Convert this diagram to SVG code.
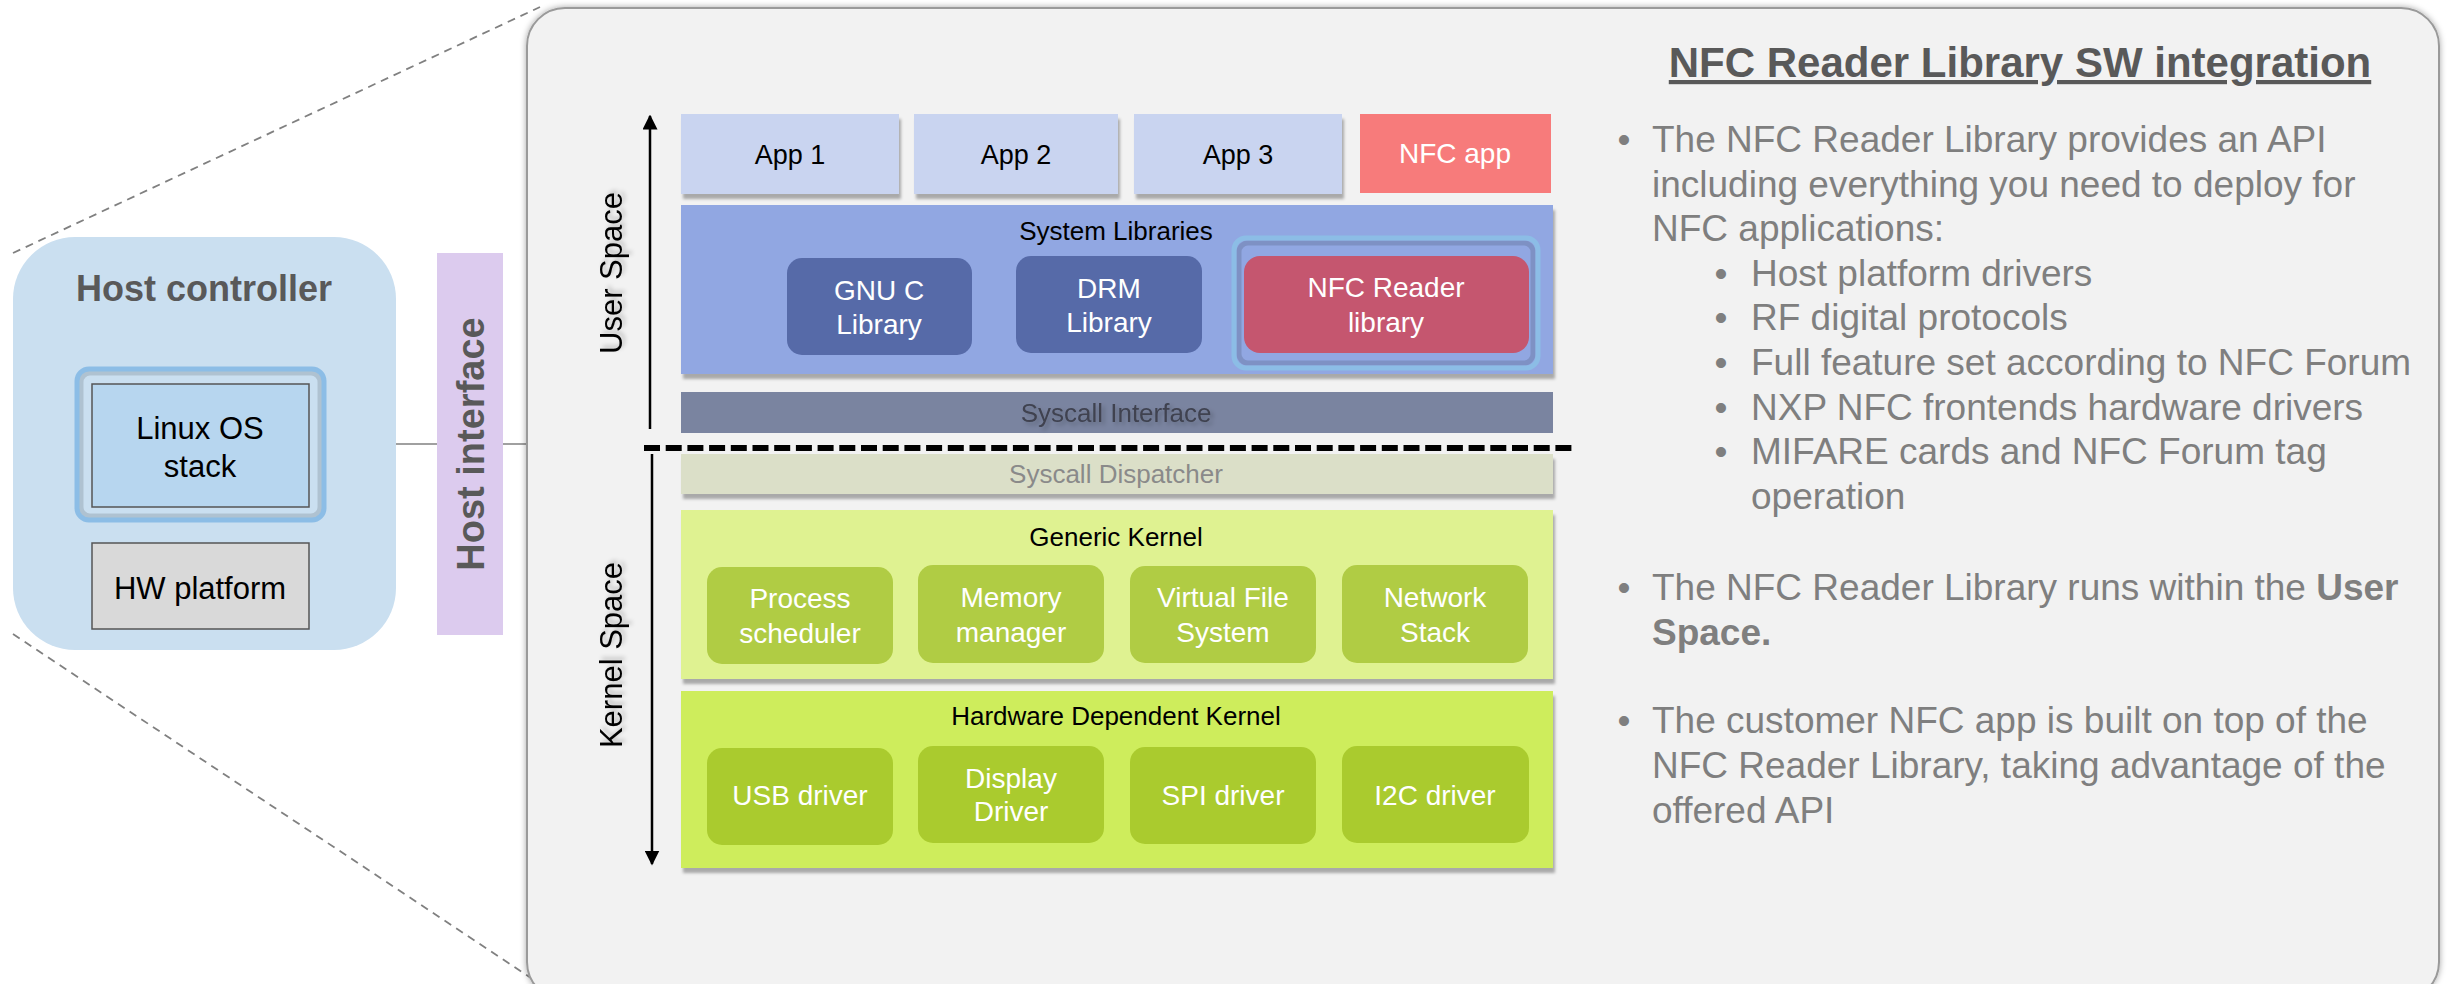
<svg xmlns="http://www.w3.org/2000/svg" width="2448" height="984" viewBox="0 0 2448 984">
  <defs>
    <filter id="boxShadow" x="-5%" y="-10%" width="115%" height="130%">
      <feDropShadow dx="2" dy="5" stdDeviation="1.5" flood-color="#000" flood-opacity="0.3"/>
    </filter>
    <filter id="panelShadow" x="-2%" y="-2%" width="104%" height="104%">
      <feDropShadow dx="0" dy="0" stdDeviation="3" flood-color="#000" flood-opacity="0.35"/>
    </filter>
    <filter id="textShadow" x="-10%" y="-10%" width="130%" height="130%">
      <feDropShadow dx="3" dy="3" stdDeviation="2" flood-color="#000" flood-opacity="0.22"/>
    </filter>
    <marker id="arrowHead" viewBox="0 0 10 10" refX="9" refY="5" markerWidth="6" markerHeight="6" markerUnits="strokeWidth" orient="auto">
      <path d="M0,0 L10,5 L0,10 z" fill="#000"/>
    </marker>
    <style>
      text { font-family: "Liberation Sans", Arial, sans-serif; }
      .lbl { font-size: 28px; fill: #ffffff; text-anchor: middle; }
      .dark { font-size: 27px; fill: #000000; text-anchor: middle; }
      .host { font-size: 31px; fill: #000000; text-anchor: middle; }
      .title { font-size: 26px; fill: #000000; text-anchor: middle; }
      .body { font-size: 37px; fill: #7f7f7f; }
      .bul { font-size: 37px; fill: #7f7f7f; text-anchor: middle; }
      .app { fill: #c9d4f0; }
      .gk { fill: #b0cc44; }
      .hk { fill: #aacb2e; }
      .lib { fill: #566aa8; }
      .glow { fill: none; stroke: #8cbde6; stroke-width: 5; }
      .inner { fill: none; stroke: #000; stroke-opacity: 0.13; stroke-width: 5; }
      .conn { stroke: #808080; stroke-width: 1.5; fill: none; }
      .zoomline { stroke: #808080; stroke-width: 1.8; stroke-dasharray: 8 6; fill: none; }
    </style>
  </defs>

  <rect width="2448" height="984" fill="#ffffff"/>

  <!-- zoom-out guide lines and host link connectors -->
  <g id="connectors">
    <line class="zoomline" x1="13" y1="253" x2="540" y2="7"/>
    <line class="zoomline" x1="13" y1="634" x2="540" y2="984"/>
    <line class="conn" x1="396" y1="444" x2="437" y2="444"/>
    <line class="conn" x1="503" y1="444" x2="527" y2="444"/>
  </g>

  <!-- host controller -->
  <g id="host-controller">
    <rect x="13" y="237" width="383" height="413" rx="62" ry="62" fill="#cadff0"/>
    <text x="204" y="301" text-anchor="middle" font-size="36" font-weight="bold" fill="#595959">Host controller</text>
  </g>
  <g id="linux-os-stack">
    <rect x="81" y="373" width="239" height="143" rx="9" class="inner"/>
    <rect x="77" y="369" width="247" height="151" rx="12" class="glow" stroke-width="4"/>
    <rect x="92" y="384" width="217" height="123" fill="#b7d6ef" stroke="#555555" stroke-width="1.5"/>
    <text x="200" y="439" class="host">Linux OS</text>
    <text x="200" y="477" class="host">stack</text>
  </g>
  <g id="hw-platform">
    <rect x="92" y="543" width="217" height="86" fill="#d9d9d9" stroke="#555555" stroke-width="1.5"/>
    <text x="200" y="599" class="host">HW platform</text>
  </g>

  <!-- host interface -->
  <g id="host-interface">
    <rect x="437" y="253" width="66" height="382" fill="#dccbee"/>
    <text transform="translate(484,444) rotate(-90)" text-anchor="middle" font-size="38" font-weight="bold" fill="#595959">Host interface</text>
  </g>

  <!-- main panel -->
  <g id="panel">
    <rect x="527" y="8" width="1912" height="992" rx="38" ry="38" fill="#f2f2f2" stroke="#9a9a9a" stroke-width="2" filter="url(#panelShadow)"/>
  </g>

  <!-- space axes -->
  <g id="space-axes">
    <line x1="650" y1="429" x2="650" y2="116" stroke="#000" stroke-width="2.5" marker-end="url(#arrowHead)"/>
    <line x1="652" y1="454" x2="652" y2="864" stroke="#000" stroke-width="2.5" marker-end="url(#arrowHead)"/>
    <text transform="translate(622,273) rotate(-90)" text-anchor="middle" font-size="31" fill="#000" filter="url(#textShadow)">User Space</text>
    <text transform="translate(622,655) rotate(-90)" text-anchor="middle" font-size="31" fill="#000" filter="url(#textShadow)">Kernel Space</text>
  </g>

  <!-- user space -->
  <g id="app-1">
    <rect x="681" y="114" width="218" height="80" class="app" filter="url(#boxShadow)"/>
    <text x="790" y="164" class="dark">App 1</text>
  </g>
  <g id="app-2">
    <rect x="914" y="114" width="204" height="80" class="app" filter="url(#boxShadow)"/>
    <text x="1016" y="164" class="dark">App 2</text>
  </g>
  <g id="app-3">
    <rect x="1134" y="114" width="208" height="80" class="app" filter="url(#boxShadow)"/>
    <text x="1238" y="164" class="dark">App 3</text>
  </g>
  <g id="nfc-app">
    <rect x="1360" y="114" width="191" height="79" fill="#f77b7b"/>
    <text x="1455" y="163" class="lbl">NFC app</text>
  </g>

  <g id="system-libraries">
    <rect x="681" y="205" width="872" height="169" fill="#91a7e2" filter="url(#boxShadow)"/>
    <text x="1116" y="240" class="title">System Libraries</text>
  </g>
  <g id="gnu-c-library">
    <rect x="787" y="258" width="185" height="97" rx="15" class="lib"/>
    <text x="879" y="300" class="lbl">GNU C</text>
    <text x="879" y="334" class="lbl">Library</text>
  </g>
  <g id="drm-library">
    <rect x="1016" y="256" width="186" height="97" rx="15" class="lib"/>
    <text x="1109" y="298" class="lbl">DRM</text>
    <text x="1109" y="332" class="lbl">Library</text>
  </g>
  <g id="nfc-reader-library">
    <rect x="1239" y="243" width="294" height="120" rx="9" class="inner"/>
    <rect x="1234" y="238" width="304" height="130" rx="12" class="glow"/>
    <rect x="1244" y="256" width="285" height="97" rx="16" fill="#c5566f"/>
    <text x="1386" y="297" class="lbl">NFC Reader</text>
    <text x="1386" y="332" class="lbl">library</text>
  </g>

  <g id="syscall-interface">
    <rect x="681" y="392" width="872" height="41" fill="#7a84a0"/>
    <text x="1116" y="422" class="title" style="fill:#3f4250" filter="url(#textShadow)">Syscall Interface</text>
  </g>

  <!-- user / kernel boundary -->
  <g id="boundary">
    <line x1="644" y1="448" x2="1574" y2="448" stroke="#000" stroke-width="6" stroke-dasharray="16 5.7"/>
  </g>

  <!-- kernel space -->
  <g id="syscall-dispatcher">
    <rect x="681" y="454" width="872" height="40" fill="#dbdfc8" filter="url(#boxShadow)"/>
    <text x="1116" y="483" class="title" style="fill:#8a8a8a">Syscall Dispatcher</text>
  </g>

  <g id="generic-kernel">
    <rect x="681" y="510" width="872" height="169" fill="#dff291" filter="url(#boxShadow)"/>
    <text x="1116" y="546" class="title">Generic Kernel</text>
  </g>
  <g id="process-scheduler">
    <rect x="707" y="567" width="186" height="97" rx="15" class="gk"/>
    <text x="800" y="608" class="lbl">Process</text>
    <text x="800" y="643" class="lbl">scheduler</text>
  </g>
  <g id="memory-manager">
    <rect x="918" y="565" width="186" height="98" rx="15" class="gk"/>
    <text x="1011" y="607" class="lbl">Memory</text>
    <text x="1011" y="642" class="lbl">manager</text>
  </g>
  <g id="virtual-file-system">
    <rect x="1130" y="566" width="186" height="97" rx="15" class="gk"/>
    <text x="1223" y="607" class="lbl">Virtual File</text>
    <text x="1223" y="642" class="lbl">System</text>
  </g>
  <g id="network-stack">
    <rect x="1342" y="565" width="186" height="98" rx="15" class="gk"/>
    <text x="1435" y="607" class="lbl">Network</text>
    <text x="1435" y="642" class="lbl">Stack</text>
  </g>

  <g id="hardware-dependent-kernel">
    <rect x="681" y="691" width="872" height="177" fill="#ceed5b" filter="url(#boxShadow)"/>
    <text x="1116" y="725" class="title">Hardware Dependent Kernel</text>
  </g>
  <g id="usb-driver">
    <rect x="707" y="748" width="186" height="97" rx="15" class="hk"/>
    <text x="800" y="805" class="lbl">USB driver</text>
  </g>
  <g id="display-driver">
    <rect x="918" y="746" width="186" height="97" rx="15" class="hk"/>
    <text x="1011" y="788" class="lbl">Display</text>
    <text x="1011" y="821" class="lbl">Driver</text>
  </g>
  <g id="spi-driver">
    <rect x="1130" y="747" width="186" height="97" rx="15" class="hk"/>
    <text x="1223" y="805" class="lbl">SPI driver</text>
  </g>
  <g id="i2c-driver">
    <rect x="1342" y="746" width="187" height="97" rx="15" class="hk"/>
    <text x="1435" y="805" class="lbl">I2C driver</text>
  </g>

  <!-- description text -->
  <g id="description">
    <text x="2020" y="77" text-anchor="middle" font-size="42" font-weight="bold" fill="#595959" text-decoration="underline">NFC Reader Library SW integration</text>

    <text x="1624" y="152" class="bul">•</text>
    <text x="1652" y="152" class="body">The NFC Reader Library provides an API</text>
    <text x="1652" y="196.6" class="body">including everything you need to deploy for</text>
    <text x="1652" y="241.2" class="body">NFC applications:</text>

    <text x="1721" y="285.8" class="bul">•</text>
    <text x="1751" y="285.8" class="body">Host platform drivers</text>
    <text x="1721" y="330.4" class="bul">•</text>
    <text x="1751" y="330.4" class="body">RF digital protocols</text>
    <text x="1721" y="375" class="bul">•</text>
    <text x="1751" y="375" class="body">Full feature set according to NFC Forum</text>
    <text x="1721" y="419.6" class="bul">•</text>
    <text x="1751" y="419.6" class="body">NXP NFC frontends hardware drivers</text>
    <text x="1721" y="464.2" class="bul">•</text>
    <text x="1751" y="464.2" class="body">MIFARE cards and NFC Forum tag</text>
    <text x="1751" y="508.8" class="body">operation</text>

    <text x="1624" y="600" class="bul">•</text>
    <text x="1652" y="600" class="body">The NFC Reader Library runs within the <tspan font-weight="bold">User</tspan></text>
    <text x="1652" y="645" class="body" font-weight="bold">Space.</text>

    <text x="1624" y="733" class="bul">•</text>
    <text x="1652" y="733" class="body">The customer NFC app is built on top of the</text>
    <text x="1652" y="778" class="body">NFC Reader Library, taking advantage of the</text>
    <text x="1652" y="823" class="body">offered API</text>
  </g>
</svg>
